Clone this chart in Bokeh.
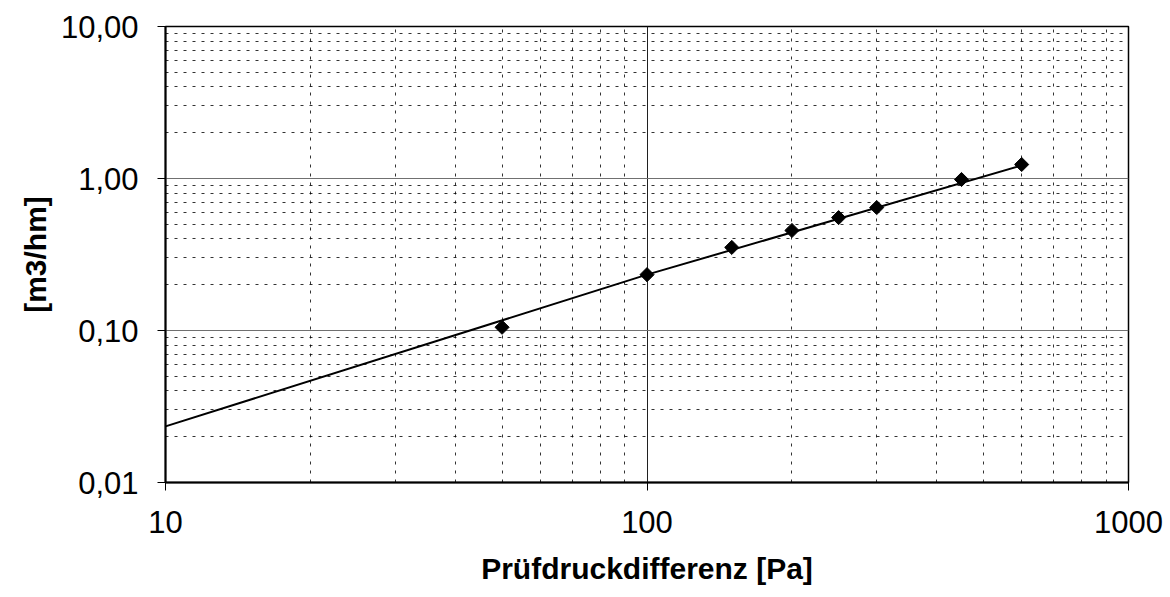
import math
from bokeh.plotting import figure
from bokeh.models import CustomJSTickFormatter, FixedTicker, Range1d
from bokeh.embed import file_html
from bokeh.resources import INLINE

# measured points (pressure difference [Pa], flow [m3/hm])
pressure = [50, 100, 150, 200, 250, 300, 450, 600]
flow = [0.105, 0.233, 0.352, 0.455, 0.553, 0.644, 0.985, 1.236]

# regression line
fit_pressure = [10, 100, 600]
fit_flow = [0.0234, 0.233, 1.22]

x_ticks = [10, 100, 1000]
y_ticks = [0.01, 0.1, 1, 10]
x_minor = [d * m for d in [10, 100] for m in range(2, 10)]
y_minor = [d * m for d in [0.01, 0.1, 1] for m in range(2, 10)]

FONT = "Liberation Sans"

p = figure(
    width=1170, height=597,
    x_axis_type="log", y_axis_type="log",
    x_range=Range1d(10, 1000), y_range=Range1d(0.01, 10),
    output_backend="svg", toolbar_location=None,
    min_border_left=165, min_border_top=26,
    min_border_right=42, min_border_bottom=115,
    background_fill_color="white", border_fill_color="white",
)

p.xaxis.ticker = FixedTicker(ticks=x_ticks, minor_ticks=x_minor)
p.yaxis.ticker = FixedTicker(ticks=y_ticks, minor_ticks=y_minor)
p.xaxis.formatter = CustomJSTickFormatter(code="return tick.toFixed(0)")
p.yaxis.formatter = CustomJSTickFormatter(code="return tick.toFixed(2).replace('.', ',')")

for ax in (p.xaxis, p.yaxis):
    ax.axis_line_color = "black"
    ax.axis_line_width = 2
    ax.major_tick_line_color = "black"
    ax.major_tick_out = 8
    ax.major_tick_in = 0
    ax.minor_tick_line_color = None
    ax.major_label_text_font = FONT
    ax.major_label_text_font_size = "31px"
    ax.major_label_text_color = "black"
    ax.axis_label_text_font = FONT
    ax.axis_label_text_font_style = "bold"
    ax.axis_label_text_font_size = "30px"
    ax.axis_label_text_color = "black"

p.xaxis.axis_label = "Prüfdruckdifferenz [Pa]"
p.yaxis.axis_label = "[m3/hm]"
p.xaxis.major_label_standoff = 20
p.yaxis.major_label_standoff = 19
p.xaxis.axis_label_standoff = 16
p.yaxis.axis_label_standoff = 6

p.xgrid.grid_line_color = "#202020"
p.xgrid.grid_line_width = 1
p.ygrid.grid_line_color = "#707070"
p.ygrid.grid_line_width = 1
for g in (p.xgrid, p.ygrid):
    g.minor_grid_line_color = "black"
    g.minor_grid_line_alpha = 0.8
    g.minor_grid_line_dash = "3 6"
    g.minor_grid_line_width = 1

p.outline_line_color = "black"
p.outline_line_width = 1.5

p.line(fit_pressure, fit_flow, line_color="black", line_width=2)
p.scatter(pressure, flow, marker="square", angle=math.pi / 4, size=10,
          fill_color="black", line_color="black")

open("out.html", "w").write(file_html(p, INLINE))
